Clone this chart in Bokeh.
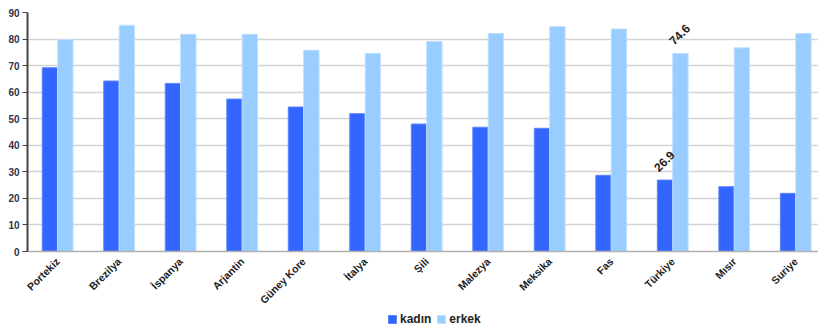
import math
from bokeh.plotting import figure
from bokeh.layouts import column
from bokeh.models import ColumnDataSource, FixedTicker, Range1d, Legend, LegendItem
from bokeh.core.properties import value
from bokeh.embed import file_html
from bokeh.resources import INLINE

countries = ["Portekiz", "Brezilya", "İspanya", "Arjantin", "Güney Kore", "İtalya", "Şili",
             "Malezya", "Meksika", "Fas", "Türkiye", "Mısır", "Suriye"]
kadin = [69.2, 64.2, 63.3, 57.4, 54.4, 51.9, 48.0, 46.8, 46.4, 28.7, 26.9, 24.4, 21.9]
erkek = [79.8, 85.2, 81.8, 81.8, 75.8, 74.6, 79.1, 82.1, 84.7, 83.8, 74.6, 76.7, 82.1]
y_ticks = [0, 10, 20, 30, 40, 50, 60, 70, 80, 90]
series = ["kadın", "erkek"]
colors = ["#3366FF", "#99CCFF"]
edges = ["#5a84ff", "#bfe0ff"]
highlight = "Türkiye"

FONT = "Liberation Sans"
idx = list(range(len(countries)))

src = ColumnDataSource(dict(
    x=idx,
    xk=[i - 0.125 for i in idx],
    xe=[i + 0.125 for i in idx],
    kadin=kadin,
    erkek=erkek,
))

p = figure(width=818, height=313, output_backend="svg", toolbar_location=None,
           x_range=Range1d(-0.49, 12.37), y_range=Range1d(0, 90),
           min_border_left=27, min_border_right=0, min_border_top=12, min_border_bottom=61)
p.outline_line_color = None
p.background_fill_color = "white"

p.vbar(x="xk", top="kadin", width=0.25, source=src, fill_color=colors[0],
       line_color=edges[0], line_width=1)
p.vbar(x="xe", top="erkek", width=0.25, source=src, fill_color=colors[1],
       line_color=edges[1], line_width=1)

# value labels for highlighted country
hi = countries.index(highlight)
lab = ColumnDataSource(dict(
    x=[hi - 0.125, hi + 0.125],
    y=[kadin[hi], erkek[hi]],
    t=[f"{kadin[hi]:.1f}", f"{erkek[hi]:.1f}"],
))
p.text(x="x", y="y", text="t", source=lab, angle=math.pi / 4, text_align="center",
       text_baseline="middle", y_offset=-19, x_offset=-1, text_font=value(FONT),
       text_font_style="bold", text_font_size="12px", text_color="#222222")

# axes
p.xaxis.ticker = FixedTicker(ticks=idx)
p.xaxis.major_label_overrides = {i: c for i, c in zip(idx, countries)}
p.xaxis.major_label_orientation = math.pi / 4
p.xaxis.major_label_text_font = FONT
p.xaxis.major_label_text_font_style = "bold"
p.xaxis.major_label_text_font_size = "10.5px"
p.xaxis.major_label_text_color = "#222222"
p.xaxis.major_tick_line_color = None
p.xaxis.major_tick_out = 0
p.xaxis.major_tick_in = 0
p.xaxis.minor_tick_line_color = None
p.xaxis.axis_line_color = "#b0b0b0"
p.xaxis.axis_line_width = 1.5
p.xaxis.major_label_standoff = 8

p.yaxis.ticker = FixedTicker(ticks=y_ticks)
p.yaxis.major_label_text_font = FONT
p.yaxis.major_label_text_font_style = "bold"
p.yaxis.major_label_text_font_size = "10px"
p.yaxis.major_label_text_color = "#333344"
p.yaxis.axis_line_color = "#444444"
p.yaxis.axis_line_width = 2
p.yaxis.major_tick_out = 5
p.yaxis.major_tick_in = 0
p.yaxis.major_tick_line_color = "#444444"
p.yaxis.minor_tick_line_color = None
p.yaxis.major_label_standoff = 3

p.xgrid.grid_line_color = None
p.ygrid.ticker = FixedTicker(ticks=y_ticks)
p.ygrid.grid_line_color = "#d4d4d4"
p.ygrid.grid_line_width = 1.5

# legend strip below the chart
lg = figure(width=818, height=16, output_backend="svg", toolbar_location=None,
            x_range=Range1d(0, 1), y_range=Range1d(0, 1),
            x_axis_type=None, y_axis_type=None,
            min_border=0, min_border_left=0, min_border_right=0,
            min_border_top=0, min_border_bottom=0)
lg.grid.visible = False
lg.outline_line_color = None
items = []
for name, c, e in zip(series, colors, edges):
    r = lg.vbar(x=[5], top=[0.5], width=0.1, fill_color=c, line_color=e)
    items.append(LegendItem(label=name, renderers=[r]))
legend = Legend(items=items, orientation="horizontal", location=(360, 3),
                glyph_width=10, glyph_height=10, label_standoff=3, spacing=5,
                padding=0, margin=0, border_line_color=None, background_fill_alpha=0,
                label_text_font=FONT, label_text_font_size="12px",
                label_text_font_style="bold",
                label_text_color="#222222", label_height=10)
lg.add_layout(legend, "center")

layout = column(p, lg, spacing=0)
open("out.html", "w").write(file_html(layout, INLINE))
